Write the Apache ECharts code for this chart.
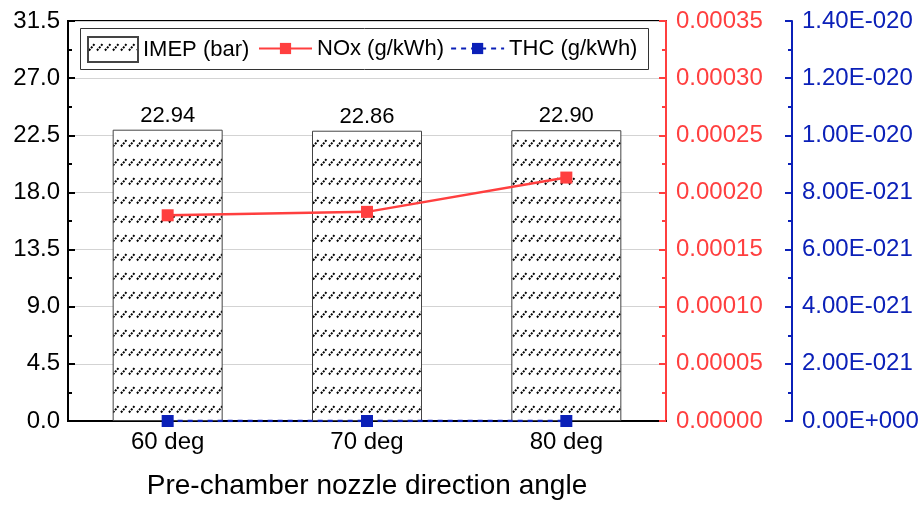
<!DOCTYPE html>
<html>
<head>
<meta charset="utf-8">
<script src="https://cdn.jsdelivr.net/npm/echarts@6/dist/echarts.min.js"></script>
<style>
    html, body { margin: 0; padding: 0; background: #fff; }
    #chartDiv { width: 922px; height: 507px; }
</style>
</head>
<body>
<div id="chartDiv"></div>
<script>
const categories = ["60 deg", "70 deg", "80 deg"];
const imepValues = [22.94, 22.86, 22.90];
const noxValues = [0.000180, 0.000183, 0.000213];
const thcValues = [0, 0, 0]; // g/kWh
const leftTicks = { min: 0, max: 31.5, interval: 4.5 };
const noxTicks = { min: 0, max: 0.00035, interval: 0.00005 };
const thcTicks = { min: 0, max: 1.4e-20, interval: 2e-21 };

// the blue axis works in units of 1E-21, ECharts rounding can't go below 1e-20
const THC_UNIT = 1e-21;

const RED = "#ff3f3f";
const BLUE = "#0b20b8";
const FONT = "Liberation Sans";

// hatch pattern for the IMEP bars
function makeHatch() {
    let c = document.createElement("canvas");
    c.width = 8;
    c.height = 19;
    let ctx = c.getContext("2d");
    ctx.fillStyle = "#fff";
    ctx.fillRect(0, 0, 8, 19);
    ctx.strokeStyle = "#000";
    ctx.lineWidth = 2;
    ctx.setLineDash([2, 1.2]);
    ctx.beginPath();
    ctx.moveTo(1, 13.5);
    ctx.lineTo(6.5, 7);
    ctx.stroke();
    return c;
}

function sciLabel(v) {
    let real = v * THC_UNIT;
    if (Math.abs(real) < 1e-40) return "0.00E+000";
    let exp = Math.floor(Math.log10(Math.abs(real)) + 1e-9);
    let mant = real / Math.pow(10, exp);
    let sign = exp < 0 ? "-" : "+";
    let e = String(Math.abs(exp)).padStart(3, "0");
    return mant.toFixed(2) + "E" + sign + e;
}

let chart = echarts.init(document.getElementById("chartDiv"));
let hatch = makeHatch();

let options = {
    animation: false,
    textStyle: { fontFamily: FONT },
    grid: {
        left: 68,
        right: 256,
        top: 21,
        bottom: 86,
        show: true,
        borderColor: "#000",
        borderWidth: 2,
        backgroundColor: "transparent",
    },
    graphic: [
        {
            type: "rect",
            left: 80,
            top: 28,
            shape: { width: 568, height: 41 },
            style: { fill: "#fff", stroke: "#333", lineWidth: 1 },
            z: 90,
        },
    ],
    legend: [
        {
            data: ["IMEP (bar)"],
            left: 87,
            top: 36,
            padding: 0,
            itemWidth: 50,
            itemHeight: 25,
            icon: "rect",
            selectedMode: false,
            textStyle: { fontFamily: FONT, fontSize: 22, color: "#000" },
            z: 100,
        },
        {
            data: ["NOx (g/kWh)", "THC (g/kWh)"],
            left: 258,
            top: 36,
            padding: 0,
            itemWidth: 53,
            itemHeight: 14,
            itemGap: 6,
            selectedMode: false,
            textStyle: { fontFamily: FONT, fontSize: 22, color: "#000", lineHeight: 25 },
            z: 100,
        },
    ],
    xAxis: {
        type: "category",
        data: categories,
        name: "Pre-chamber nozzle direction angle",
        nameLocation: "middle",
        nameGap: 51,
        nameTextStyle: { fontFamily: FONT, fontSize: 28, color: "#000" },
        axisLine: { lineStyle: { color: "#000", width: 2 } },
        axisTick: { show: false },
        axisLabel: { fontFamily: FONT, fontSize: 24, color: "#000", margin: 9 },
    },
    yAxis: [
        {
            type: "value",
            min: leftTicks.min,
            max: leftTicks.max,
            interval: leftTicks.interval,
            axisLine: { show: true, lineStyle: { color: "#000", width: 2 } },
            axisTick: { show: true, inside: true, length: 7, lineStyle: { color: "#000", width: 2 } },
            minorTick: { show: true, splitNumber: 2, length: 4, lineStyle: { color: "#000", width: 2 } },
            splitLine: { show: true, lineStyle: { color: "#d3d3d3", width: 1 } },
            axisLabel: {
                fontFamily: FONT, fontSize: 24, color: "#000", margin: 8,
                formatter: (v) => v.toFixed(1),
            },
        },
        {
            type: "value",
            position: "right",
            min: noxTicks.min,
            max: noxTicks.max,
            interval: noxTicks.interval,
            axisLine: { show: true, lineStyle: { color: RED, width: 2 } },
            axisTick: { show: true, inside: true, length: 7, lineStyle: { color: RED, width: 2 } },
            minorTick: { show: true, splitNumber: 2, length: 4, lineStyle: { color: RED, width: 2 } },
            splitLine: { show: false },
            axisLabel: {
                fontFamily: FONT, fontSize: 24, color: RED, margin: 10,
                formatter: (v) => v.toFixed(5),
            },
        },
        {
            type: "value",
            position: "right",
            offset: 126,
            min: thcTicks.min / THC_UNIT,
            max: thcTicks.max / THC_UNIT,
            interval: thcTicks.interval / THC_UNIT,
            axisLine: { show: true, lineStyle: { color: BLUE, width: 2 } },
            axisTick: { show: true, inside: true, length: 7, lineStyle: { color: BLUE, width: 2 } },
            minorTick: { show: true, splitNumber: 2, length: 4, lineStyle: { color: BLUE, width: 2 } },
            splitLine: { show: false },
            axisLabel: {
                fontFamily: FONT, fontSize: 24, color: BLUE, margin: 10,
                formatter: sciLabel,
            },
        },
    ],
    series: [
        {
            name: "IMEP (bar)",
            type: "bar",
            data: imepValues,
            barWidth: 110,
            itemStyle: {
                color: { image: hatch, repeat: "repeat" },
                borderColor: "#444",
                borderWidth: 1,
            },
            label: {
                show: true,
                position: "top",
                distance: 3,
                fontFamily: FONT,
                fontSize: 22,
                color: "#000",
                formatter: (p) => p.value.toFixed(2),
            },
        },
        {
            name: "NOx (g/kWh)",
            type: "line",
            yAxisIndex: 1,
            data: noxValues,
            symbol: "rect",
            symbolSize: 12,
            itemStyle: { color: RED },
            lineStyle: { color: RED, width: 2.5 },
            z: 5,
        },
        {
            name: "THC (g/kWh)",
            type: "line",
            yAxisIndex: 2,
            data: thcValues.map((v) => v / THC_UNIT),
            symbol: "rect",
            symbolSize: 12,
            itemStyle: { color: BLUE },
            lineStyle: { color: BLUE, width: 2.5, type: [5, 5] },
            z: 5,
        },
    ],
};
chart.setOption(options);
</script>
</body>
</html>
